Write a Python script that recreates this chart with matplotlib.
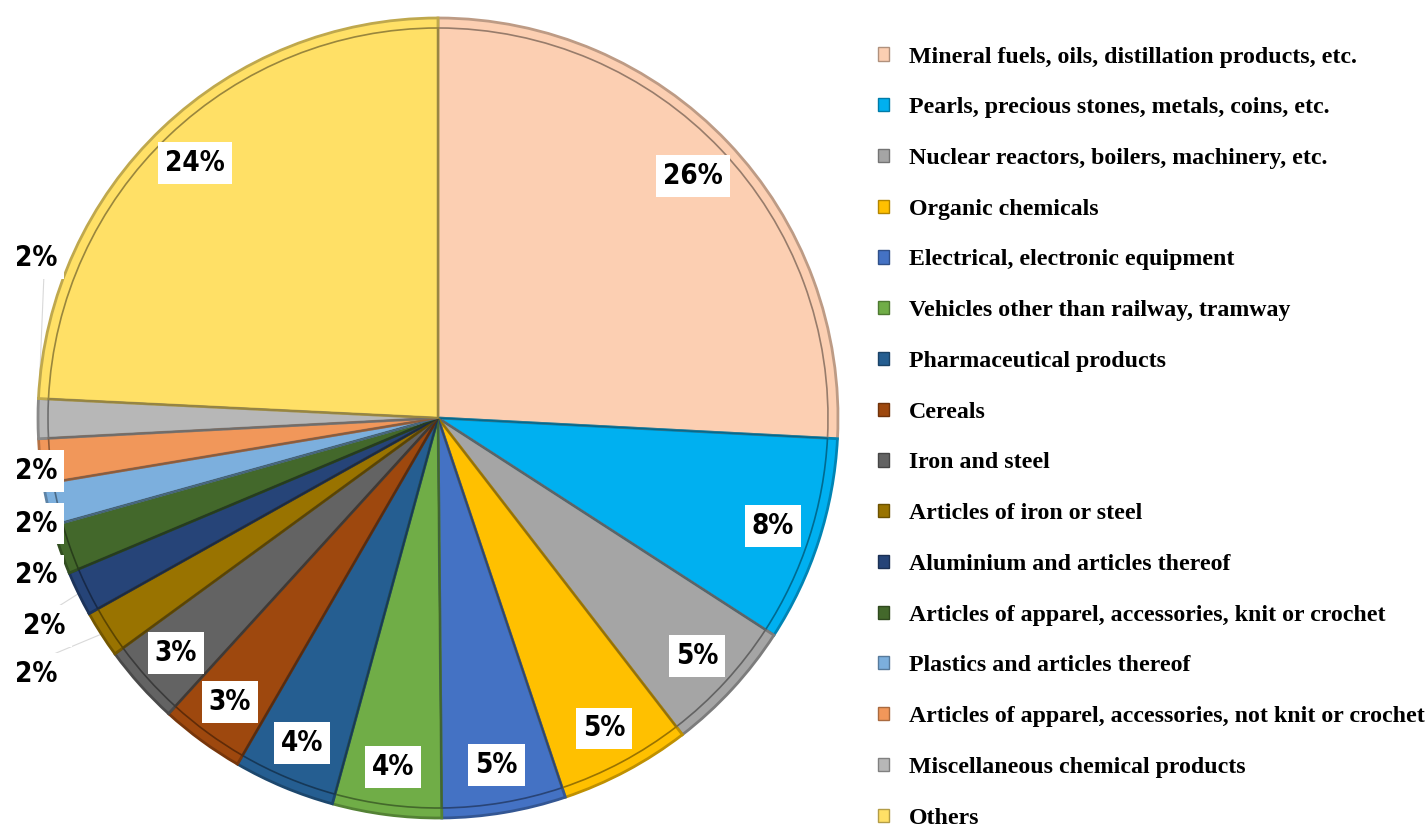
import numpy as np
import matplotlib.pyplot as plt
import matplotlib.colors as mcolors

# Share of exports by product group (%)
categories = [
    "Mineral fuels, oils, distillation products, etc.",
    "Pearls, precious stones, metals, coins, etc.",
    "Nuclear reactors, boilers, machinery, etc.",
    "Organic chemicals",
    "Electrical, electronic equipment",
    "Vehicles other than railway, tramway",
    "Pharmaceutical products",
    "Cereals",
    "Iron and steel",
    "Articles of iron or steel",
    "Aluminium and articles thereof",
    "Articles of apparel, accessories, knit or crochet",
    "Plastics and articles thereof",
    "Articles of apparel, accessories, not knit or crochet",
    "Miscellaneous chemical products",
    "Others",
]
shares = [25.8, 8.3, 5.4, 5.3, 5.0, 4.4, 4.1, 3.4, 3.2, 1.9, 1.8, 2.0, 1.7, 1.8, 1.6, 24.2]
colors = ["#FCCFB2", "#00B0F0", "#A5A5A5", "#FFC000", "#4472C4", "#70AD47",
          "#255E91", "#9E480E", "#636363", "#997300", "#264478", "#43682B",
          "#7CAFDD", "#F1975A", "#B7B7B7", "#FFE066"]


def darker(c, f=0.65):
    r, g, b = mcolors.to_rgb(c)
    return (r * f, g * f, b * f)


fig = plt.figure(figsize=(14.26, 8.27), dpi=100)
ax = fig.add_axes([38 / 1426, 9 / 827, 800 / 1426, 800 / 827])

wedges, _ = ax.pie(shares, colors=colors, startangle=90, counterclock=False,
                   wedgeprops=dict(edgecolor="none"))
for w, c in zip(wedges, colors):
    w.set_edgecolor(darker(c, 0.75))
    w.set_linewidth(2.0)

# inner bevel line
inner, _ = ax.pie(shares, startangle=90, counterclock=False, radius=0.975,
                  wedgeprops=dict(fill=False, linewidth=1.2))
for w, c in zip(inner, colors):
    w.set_edgecolor(darker(c, 0.6))

ax.set_xlim(-1, 1)
ax.set_ylim(-1, 1)
ax.set_aspect("equal")
ax.axis("off")

total = sum(shares)
lab_font = dict(family="DejaVu Sans", fontstretch="condensed", fontweight="heavy",
                fontsize=20, color="black", ha="center", va="center")
box = dict(facecolor="white", edgecolor="none", pad=5)

# small slices get labels outside on the left, nudged apart
outside_dy = {9: -0.10, 10: -0.082, 11: -0.065, 12: -0.047, 13: -0.025, 14: 0.402}
for i, w in enumerate(wedges):
    pct = shares[i] / total * 100
    txt = f"{pct:.0f}%"
    mid = np.deg2rad((w.theta1 + w.theta2) / 2)
    if i in outside_dy:
        y = np.sin(mid) + outside_dy[i]
        x = -0.985 if i == 10 else -1.005
        ax.text(x, y, txt, bbox=box, **lab_font)
        if i in (9, 10, 14):
            xe, ye = np.cos(mid), np.sin(mid)
            ax.plot([x + 0.02, xe], [y + (0.04 if i != 14 else -0.04), ye],
                    color="#D9D9D9", lw=0.8, zorder=0)
    else:
        r = 0.88
        ax.text(r * np.cos(mid), r * np.sin(mid), txt, bbox=box, **lab_font)

handles = [plt.Rectangle((0, 0), 1, 1, facecolor=c, edgecolor=darker(c, 0.7), lw=1)
           for c in colors]
fig.legend(handles, categories, loc="upper left", bbox_to_anchor=(856 / 1426, 1 - 25 / 827),
           frameon=False, prop=dict(family="Liberation Serif", weight="bold", size=17.2),
           handlelength=0.47, handleheight=0.47, handletextpad=0.85, labelspacing=1.245)

fig.savefig("out.png", dpi=100, facecolor="white")
